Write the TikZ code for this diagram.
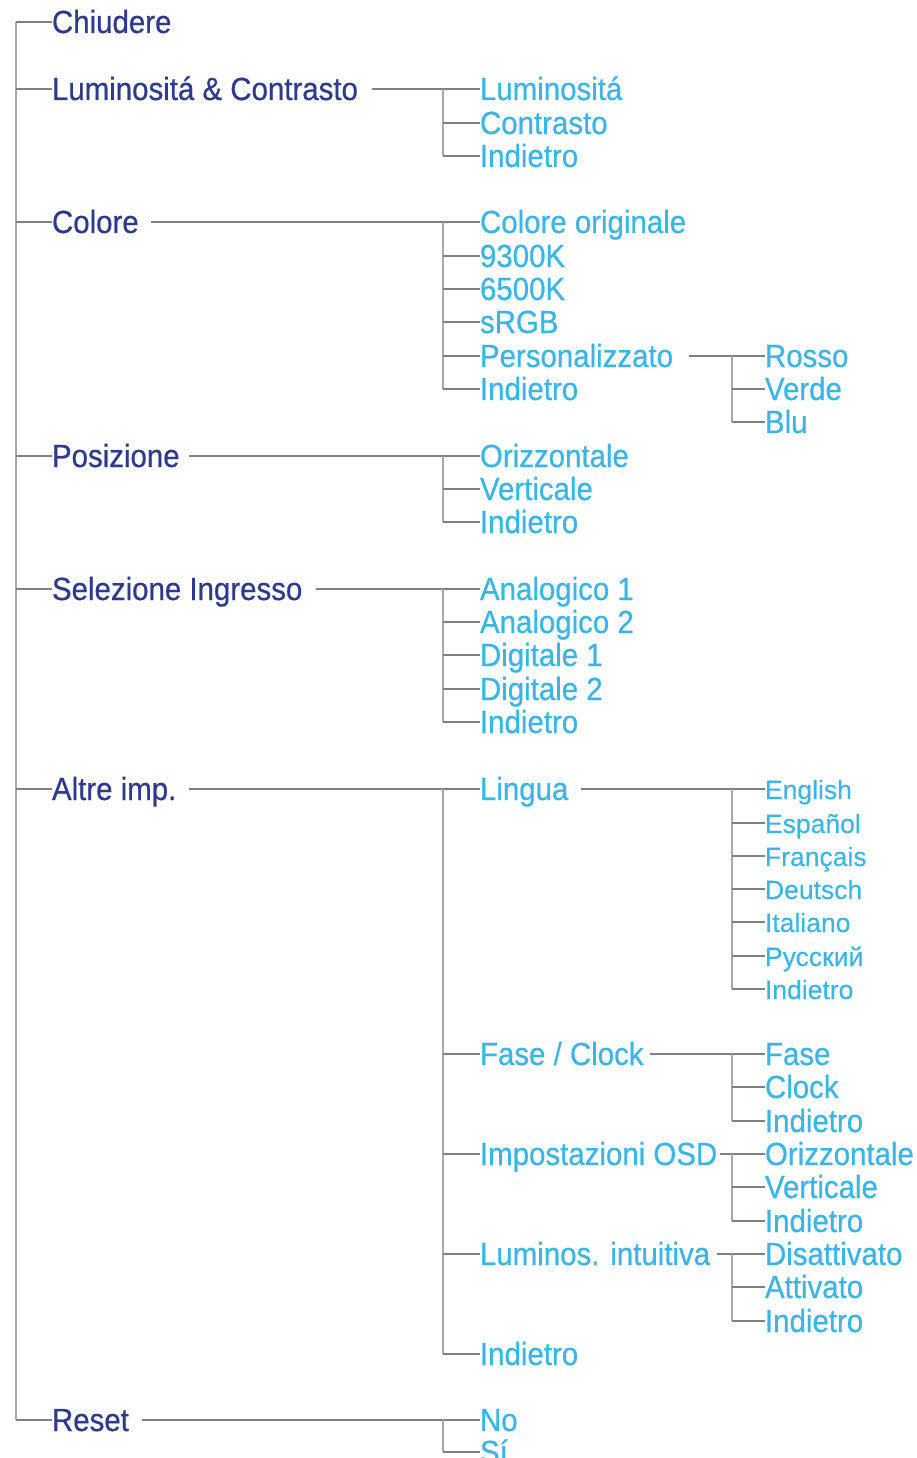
\documentclass[tikz,border=0pt]{standalone}
\usepackage{fontspec}
\newfontfamily\mainf[FakeStretch=0.92,FakeBold=0.6]{Liberation Sans}
\newfontfamily\langf[FakeBold=0.3]{Liberation Sans}
\definecolor{dkblue}{HTML}{2E3A8C}
\definecolor{ltblue}{HTML}{3BB4E6}
\definecolor{lnk}{HTML}{808080}
\definecolor{barc}{HTML}{A8A8A8}
\tikzset{
  base/.style={anchor=west,inner sep=0pt,outer sep=0pt,text height=22pt,text depth=0pt},
  top/.style={base,font=\mainf\fontsize{32}{34}\selectfont,text=dkblue},
  sub/.style={base,font=\mainf\fontsize{32}{34}\selectfont,text=ltblue},
  lang/.style={base,text height=20pt,font=\langf\fontsize{26.5}{30}\selectfont,text=ltblue},
  link/.style={draw=lnk,line width=1.4pt},
  bar/.style={draw=barc,line width=2.4pt},
  trunk/.style={draw=barc,line width=2.6pt}
}
\begin{document}
\begin{tikzpicture}[x=1pt,y=-1pt]
\useasboundingbox (0,0) rectangle (916,1458);
\clip (0,0) rectangle (916,1458);
% main level
\node[top] (chi) at (52,22) {Chiudere};
\node[top] (lc)  at (52,89) {Luminositá \& Contrasto};
\node[top] (col) at (52,222) {Colore};
\node[top] (pos) at (52,456) {Posizione};
\node[top] (sel) at (52,589) {Selezione Ingresso};
\node[top] (alt) at (52,789) {Altre imp.};
\node[top] (res) at (52,1420) {Reset};
% level 2
\node[sub] (lc1) at (480,89) {Luminositá};
\node[sub] (lc2) at (480,123) {Contrasto};
\node[sub] (lc3) at (480,156) {Indietro};
\node[sub] (co1) at (480,222) {Colore originale};
\node[sub] (co2) at (480,256) {9300K};
\node[sub] (co3) at (480,289) {6500K};
\node[sub] (co4) at (480,322) {sRGB};
\node[sub] (co5) at (480,356) {Personalizzato};
\node[sub] (co6) at (480,389) {Indietro};
\node[sub] (po1) at (480,456) {Orizzontale};
\node[sub] (po2) at (480,489) {Verticale};
\node[sub] (po3) at (480,522) {Indietro};
\node[sub] (se1) at (480,589) {Analogico 1};
\node[sub] (se2) at (480,622) {Analogico 2};
\node[sub] (se3) at (480,655) {Digitale 1};
\node[sub] (se4) at (480,689) {Digitale 2};
\node[sub] (se5) at (480,722) {Indietro};
\node[sub] (al1) at (480,789) {Lingua};
\node[sub] (al2) at (480,1054) {Fase / Clock};
\node[sub] (al3) at (480,1154) {Impostazioni OSD};
\node[sub] (al4) at (480,1254) {Luminos. intuitiva};
\node[sub] (al5) at (480,1354) {Indietro};
\node[sub] (re1) at (480,1420) {No};
\node[sub] (re2) at (480,1452) {Sí};
% level 3
\node[sub] (pe1) at (765,356) {Rosso};
\node[sub] (pe2) at (765,389) {Verde};
\node[sub] (pe3) at (765,422) {Blu};
\node[lang] (li1) at (765,789) {English};
\node[lang] (li2) at (765,823) {Español};
\node[lang] (li3) at (765,856) {Français};
\node[lang] (li4) at (765,889) {Deutsch};
\node[lang] (li5) at (765,922) {Italiano};
\node[lang] (li6) at (765,956) {Русский};
\node[lang] (li7) at (765,989) {Indietro};
\node[sub] (fc1) at (765,1054) {Fase};
\node[sub] (fc2) at (765,1087) {Clock};
\node[sub] (fc3) at (765,1121) {Indietro};
\node[sub] (os1) at (765,1154) {Orizzontale};
\node[sub] (os2) at (765,1187) {Verticale};
\node[sub] (os3) at (765,1221) {Indietro};
\node[sub] (lu1) at (765,1254) {Disattivato};
\node[sub] (lu2) at (765,1287) {Attivato};
\node[sub] (lu3) at (765,1321) {Indietro};
% bar positions
\coordinate (root) at (16,22);
\coordinate (b2) at (443,0);
\coordinate (b3) at (732,0);
% trunk
\draw[trunk] (root) -- (root |- res.west);
\draw[link] (chi.west) -- (root);
\foreach \c in {lc,col,pos,sel,alt,res} \draw[link] (root |- \c.west) -- (\c.west);
% groups: parent, gap, bar, first, last, remaining children
\foreach \p/\g/\b/\f/\l/\m in {
  lc/14/b2/lc1/lc3/{lc2,lc3},
  col/12/b2/co1/co6/{co2,co3,co4,co5,co6},
  pos/9/b2/po1/po3/{po2,po3},
  sel/14/b2/se1/se5/{se2,se3,se4,se5},
  alt/13/b2/al1/al5/{al2,al3,al4,al5},
  res/13/b2/re1/re2/{re2},
  co5/16/b3/pe1/pe3/{pe2,pe3},
  al1/13/b3/li1/li7/{li2,li3,li4,li5,li6,li7},
  al2/6/b3/fc1/fc3/{fc2,fc3},
  al3/3/b3/os1/os3/{os2,os3},
  al4/7/b3/lu1/lu3/{lu2,lu3}}{
  \draw[link] ([xshift=\g pt]\p.east) -- (\f.west);
  \draw[bar] (\b |- \f.west) -- (\b |- \l.west);
  \foreach \c in \m \draw[link] (\b |- \c.west) -- (\c.west);
}
\end{tikzpicture}
\end{document}
